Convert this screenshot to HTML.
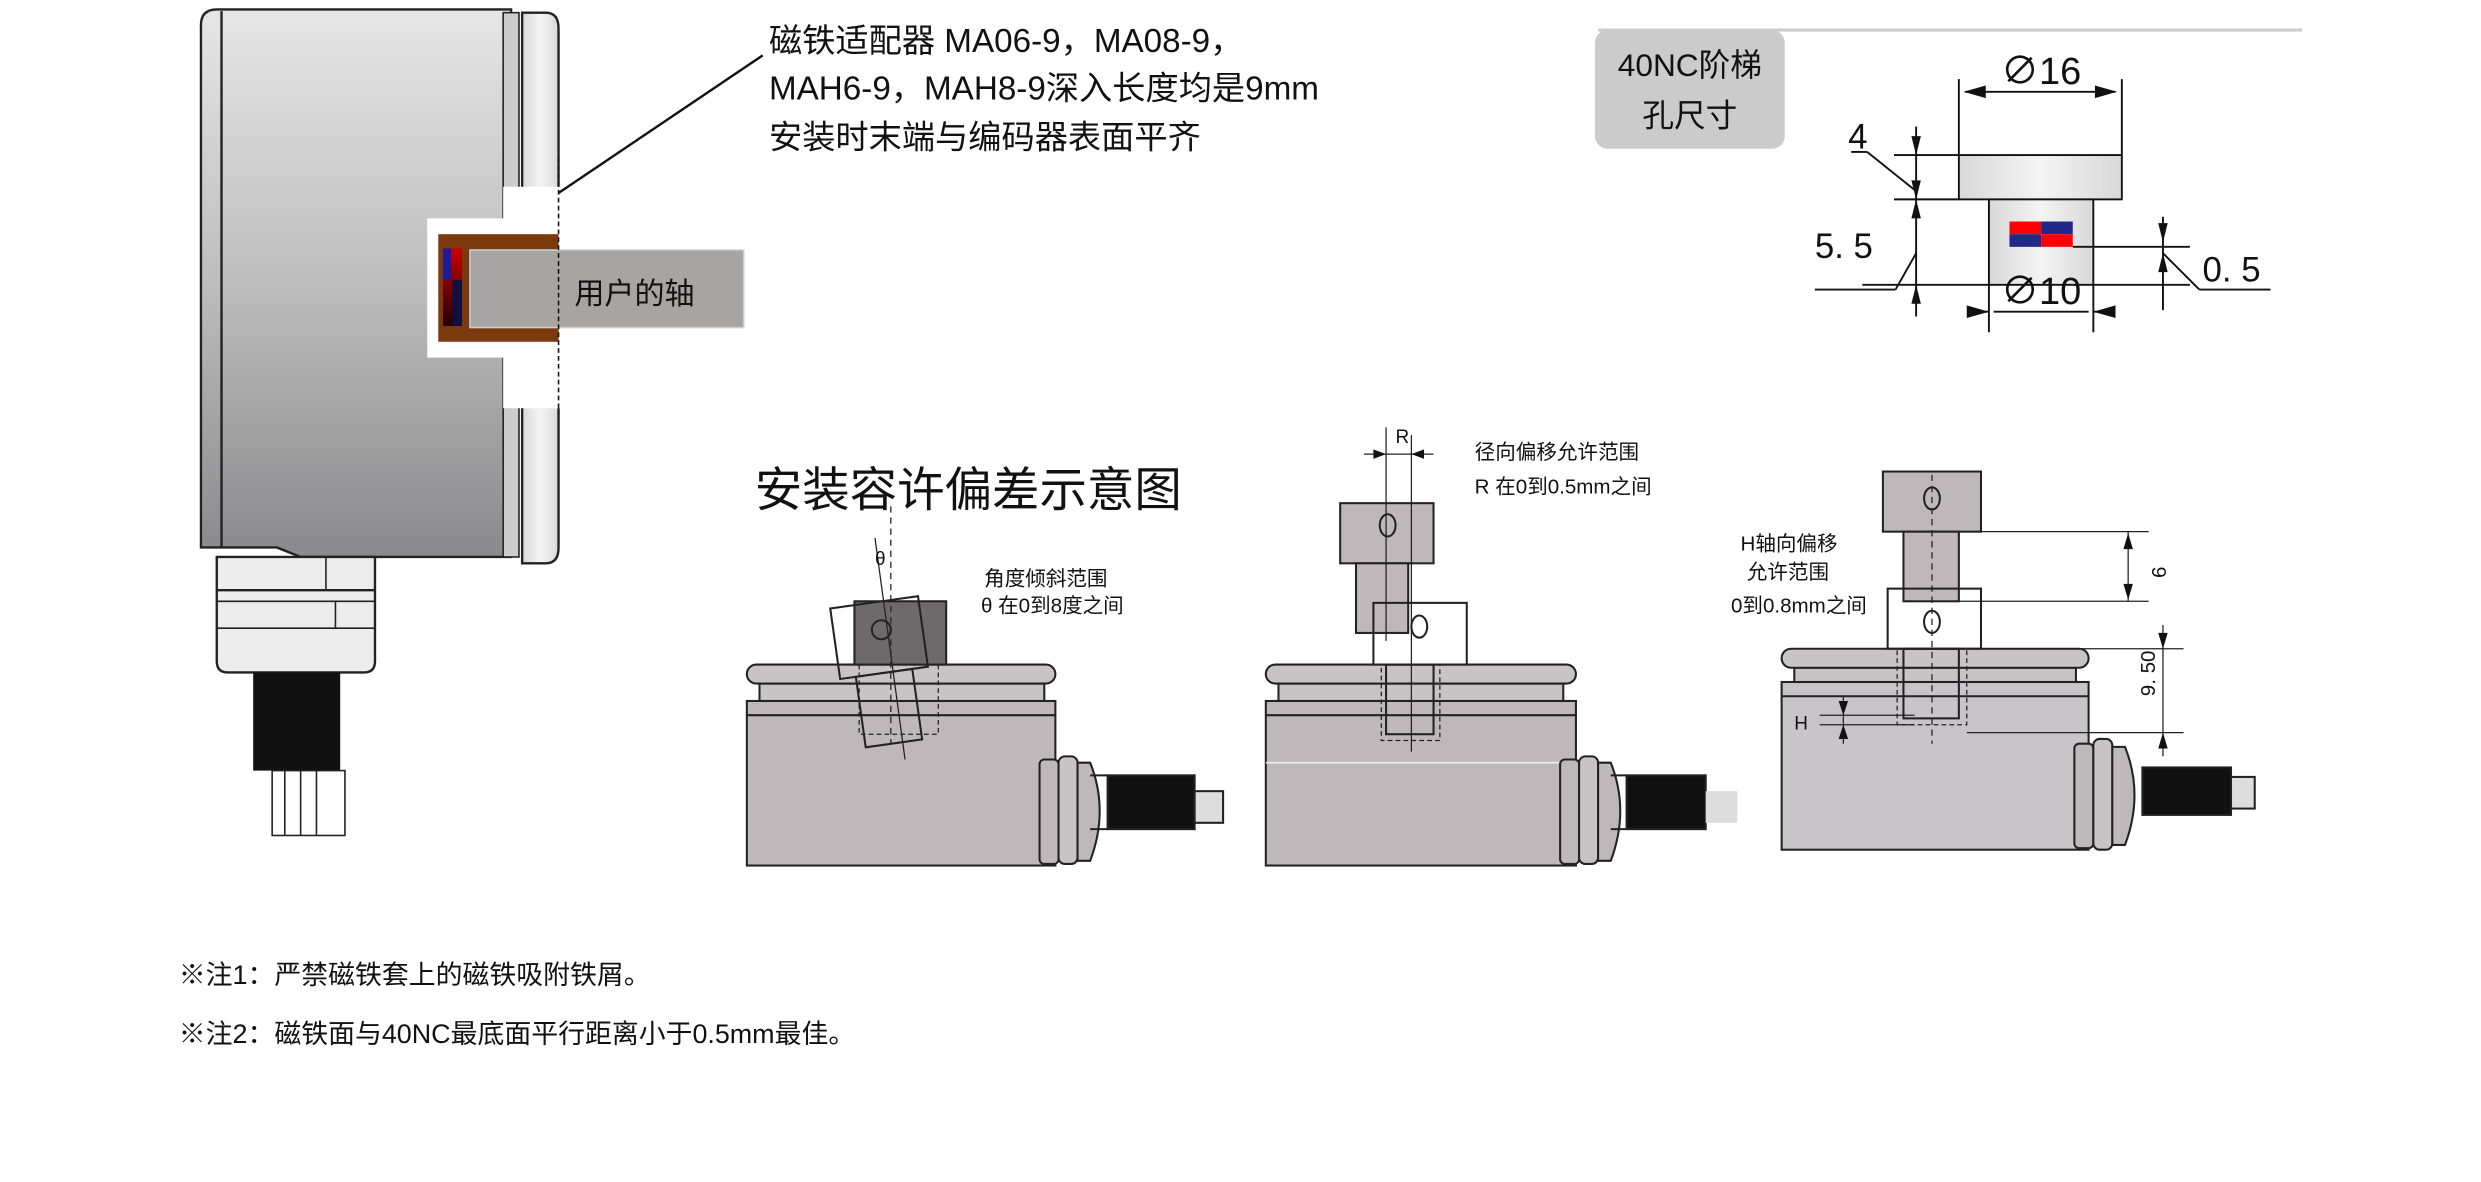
<!DOCTYPE html>
<html><head><meta charset="utf-8"><style>
html,body{margin:0;padding:0;background:#fff;}
svg{display:block;}
text{font-family:"Liberation Sans","Noto Sans CJK SC",sans-serif;fill:#111;}
</style></head><body>
<svg width="2481" height="1182" viewBox="0 0 1568 747" preserveAspectRatio="none" xmlns="http://www.w3.org/2000/svg">
<defs>
<linearGradient id="gb" x1="0" y1="0" x2="0" y2="1"><stop offset="0" stop-color="#e6e6e6"/><stop offset="0.5" stop-color="#bdbdbd"/><stop offset="1" stop-color="#8a898b"/></linearGradient>
<linearGradient id="gh" x1="0" y1="0" x2="1" y2="0"><stop offset="0" stop-color="#d8d8d8"/><stop offset="0.5" stop-color="#f4f4f4"/><stop offset="1" stop-color="#d8d8d8"/></linearGradient>
<linearGradient id="mg" x1="0" y1="0" x2="0" y2="1"><stop offset="0" stop-color="#c00"/><stop offset="1" stop-color="#200"/></linearGradient>
</defs>
<!-- Left encoder -->
<path d="M137,6 H323 V352 H190 L175,346 H127 V16 Q127,6 137,6Z" fill="url(#gb)" stroke="#222" stroke-width="1.5"/>
<line x1="140" y1="7" x2="140" y2="346" stroke="#222" stroke-width="1.5"/>
<rect x="318" y="8" width="10" height="344" fill="#ccc" stroke="#222"/>
<path d="M330,8 H345 Q353,8 353,18 V346 Q353,356 345,356 H330Z" fill="url(#gh)" stroke="#222" stroke-width="1.5"/>
<rect x="318" y="118" width="36" height="140" fill="#fff"/>
<rect x="270" y="138" width="84" height="88" fill="#fff"/>
<rect x="277" y="148" width="76" height="68" fill="#7a3a0e"/>
<rect x="280" y="157" width="12" height="49" fill="url(#mg)"/>
<rect x="280" y="157" width="5" height="20" fill="#1a1aa0"/>
<rect x="286" y="177" width="6" height="29" fill="#101040"/>
<rect x="297" y="158" width="173" height="49" fill="#a7a4a4" stroke="#ccc"/>
<text x="363" y="192" font-size="19">用户的轴</text>
<line x1="353" y1="100" x2="353" y2="262" stroke="#111" stroke-dasharray="3,2"/>
<line x1="353" y1="122" x2="482" y2="35" stroke="#111" stroke-width="1.5"/>
<path d="M137,352 H237 V418 Q237,425 230,425 H144 Q137,425 137,418Z" fill="#ececec" stroke="#222" stroke-width="1.5"/>
<line x1="137" y1="373" x2="237" y2="373" stroke="#222" stroke-width="1.5"/>
<line x1="137" y1="380" x2="237" y2="380" stroke="#222"/>
<line x1="137" y1="397" x2="237" y2="397" stroke="#222"/>
<line x1="206" y1="352" x2="206" y2="373" stroke="#222"/><line x1="212" y1="380" x2="212" y2="397" stroke="#222"/>
<rect x="160" y="425" width="55" height="62" fill="#111"/>
<rect x="172" y="487" width="46" height="41" fill="#fff" stroke="#222"/>
<line x1="180" y1="487" x2="180" y2="528" stroke="#222"/><line x1="190" y1="487" x2="190" y2="528" stroke="#222"/><line x1="200" y1="487" x2="200" y2="528" stroke="#222"/>
<text x="486" y="33" font-size="21">磁铁适配器 MA06-9，MA08-9，</text>
<text x="486" y="63" font-size="21">MAH6-9，MAH8-9深入长度均是9mm</text>
<text x="486" y="94" font-size="21">安装时末端与编码器表面平齐</text>
<!-- 40NC box -->
<line x1="1010" y1="19" x2="1455" y2="19" stroke="#ccc" stroke-width="2"/>
<rect x="1008" y="19" width="120" height="75" rx="8" fill="#cbcbcb"/>
<text x="1068" y="48" font-size="20" text-anchor="middle">40NC阶梯</text>
<text x="1068" y="80" font-size="20" text-anchor="middle">孔尺寸</text>
<g stroke="#111" stroke-width="1.2" fill="none">
<rect x="1238" y="98" width="103" height="28" fill="url(#gh)"/>
<rect x="1257" y="126" width="66" height="54" fill="url(#gh)"/>
<line x1="1238" y1="50" x2="1238" y2="98"/><line x1="1341" y1="50" x2="1341" y2="98"/>
<line x1="1242" y1="58" x2="1337" y2="58"/>
<line x1="1197" y1="98" x2="1238" y2="98"/><line x1="1197" y1="126" x2="1238" y2="126"/>
<line x1="1211" y1="80" x2="1211" y2="200"/>
<line x1="1180" y1="96" x2="1210" y2="120"/><line x1="1170" y1="96" x2="1180" y2="96"/>
<line x1="1177" y1="180" x2="1257" y2="180"/><line x1="1147" y1="183" x2="1198" y2="183"/><line x1="1198" y1="183" x2="1211" y2="160"/>
<line x1="1257" y1="180" x2="1257" y2="210"/><line x1="1323" y1="180" x2="1323" y2="210"/>
<line x1="1260" y1="197" x2="1320" y2="197"/><line x1="1244" y1="197" x2="1257" y2="197"/><line x1="1323" y1="197" x2="1336" y2="197"/>
<line x1="1310" y1="156" x2="1384" y2="156"/><line x1="1323" y1="180" x2="1384" y2="180"/>
<line x1="1367" y1="137" x2="1367" y2="196"/>
<line x1="1367" y1="160" x2="1390" y2="183"/><line x1="1390" y1="183" x2="1435" y2="183"/>
</g>
<g fill="#111">
<path d="M1241,58 l14,-4 v8z"/><path d="M1338,58 l-14,-4 v8z"/>
<path d="M1211,98 l-3,-12 h6z"/><path d="M1211,126 l-3,-12 h6z"/><path d="M1211,126 l-3,12 h6z"/><path d="M1211,180 l-3,12 h6z"/>
<path d="M1257,197 l-14,-4 v8z"/><path d="M1323,197 l14,-4 v8z"/>
<path d="M1367,153 l-3,-12 h6z"/><path d="M1367,160 l-3,12 h6z"/>
</g>
<rect x="1270" y="140" width="20" height="8" fill="#f00"/><rect x="1290" y="140" width="20" height="8" fill="#22288a"/>
<rect x="1270" y="148" width="20" height="8" fill="#22288a"/><rect x="1290" y="148" width="20" height="8" fill="#f00"/>
<text x="1290" y="53" font-size="24" text-anchor="middle">∅16</text>
<text x="1290" y="192" font-size="24" text-anchor="middle">∅10</text>
<text x="1168" y="94" font-size="22">4</text>
<text x="1147" y="163" font-size="22">5. 5</text>
<text x="1392" y="178" font-size="22">0. 5</text>
<!-- title -->
<text x="477" y="320" font-size="30">安装容许偏差示意图</text>
<!-- Encoder 1 -->
<g stroke="#222" stroke-width="1.3">
<rect x="472" y="443" width="195" height="104" fill="#bfb8bb"/>
<line x1="472" y1="452" x2="667" y2="452"/>
<rect x="480" y="432" width="180" height="11" fill="#c8c4c6"/>
<rect x="472" y="420" width="195" height="12" rx="6" fill="#c8c4c6"/>
<rect x="540" y="380" width="58" height="40" fill="#6e6a6b"/>
<g transform="rotate(-8 560 420)"><rect x="530" y="380" width="56" height="45" fill="none"/><rect x="540" y="425" width="36" height="45" fill="none"/></g>
<circle cx="557" cy="398" r="6" fill="none"/>
<line x1="563" y1="320" x2="563" y2="470" stroke-dasharray="4,3" stroke-width="0.8"/>
<line x1="553" y1="340" x2="572" y2="480" stroke-width="0.8"/>
<rect x="543" y="420" width="50" height="44" fill="none" stroke-dasharray="3,2" stroke-width="0.8"/>
<rect x="700" y="490" width="55" height="34" fill="#111"/>
<rect x="755" y="500" width="18" height="20" fill="#ddd"/>
<rect x="657" y="480" width="12" height="66" rx="3" fill="#bfb8bb"/>
<rect x="669" y="478" width="12" height="68" rx="4" fill="#c8c4c6"/>
<path d="M681,482 h8 q12,30 0,62 h-8z" fill="#bfb8bb"/>
<line x1="689" y1="490" x2="700" y2="490"/><line x1="689" y1="524" x2="700" y2="524"/>
</g>
<text x="553" y="357" font-size="12">θ</text>
<text x="622" y="370" font-size="13">角度倾斜范围</text>
<text x="620" y="387" font-size="13">θ 在0到8度之间</text>
<!-- Encoder 2 -->
<g stroke="#222" stroke-width="1.3">
<rect x="800" y="443" width="196" height="104" fill="#bfb8bb"/>
<line x1="800" y1="452" x2="996" y2="452"/>
<line x1="800" y1="482" x2="996" y2="482" stroke="#eee" stroke-width="1"/>
<rect x="808" y="432" width="180" height="11" fill="#c8c4c6"/>
<rect x="800" y="420" width="196" height="12" rx="6" fill="#c8c4c6"/>
<rect x="847" y="318" width="59" height="38" fill="#bfb8bb"/>
<rect x="857" y="356" width="33" height="44" fill="#bfb8bb"/>
<rect x="868" y="381" width="59" height="39" fill="none"/>
<rect x="876" y="420" width="30" height="44" fill="none"/>
<rect x="873" y="420" width="37" height="48" fill="none" stroke-dasharray="3,2" stroke-width="0.8"/>
<ellipse cx="877" cy="332" rx="5" ry="7" fill="none"/>
<ellipse cx="897" cy="396" rx="5" ry="7" fill="none"/>
<line x1="876" y1="270" x2="876" y2="405" stroke-width="0.8"/>
<line x1="892" y1="275" x2="892" y2="475" stroke-width="0.8"/>
<line x1="862" y1="287" x2="906" y2="287" stroke-width="0.8"/>
<rect x="1028" y="490" width="50" height="34" fill="#111"/>
<rect x="1078" y="500" width="20" height="20" fill="#ddd" stroke="none"/>
<rect x="986" y="480" width="12" height="66" rx="3" fill="#bfb8bb"/>
<rect x="998" y="478" width="12" height="68" rx="4" fill="#c8c4c6"/>
<path d="M1010,482 h8 q12,30 0,62 h-8z" fill="#bfb8bb"/>
<line x1="1018" y1="490" x2="1028" y2="490"/><line x1="1018" y1="524" x2="1028" y2="524"/>
</g>
<text x="882" y="280" font-size="12">R</text>
<text x="932" y="290" font-size="13">径向偏移允许范围</text>
<text x="932" y="312" font-size="13">R 在0到0.5mm之间</text>
<!-- Encoder 3 -->
<g stroke="#222" stroke-width="1.3">
<rect x="1126" y="431" width="194" height="106" fill="#c8c5c9"/>
<line x1="1126" y1="440" x2="1320" y2="440"/>
<rect x="1134" y="422" width="178" height="9" fill="#c8c4c6"/>
<rect x="1126" y="410" width="194" height="12" rx="6" fill="#c8c4c6"/>
<rect x="1190" y="298" width="62" height="38" fill="#bfb8bb"/>
<rect x="1203" y="336" width="35" height="44" fill="#bfb8bb"/>
<rect x="1193" y="372" width="59" height="38" fill="none"/>
<rect x="1203" y="410" width="35" height="44" fill="none"/>
<rect x="1199" y="410" width="44" height="48" fill="none" stroke-dasharray="3,2" stroke-width="0.8"/>
<ellipse cx="1221" cy="315" rx="5" ry="7" fill="none"/>
<ellipse cx="1221" cy="393" rx="5" ry="7" fill="none"/>
<line x1="1221" y1="300" x2="1221" y2="470" stroke-dasharray="4,3" stroke-width="0.8"/>
<line x1="1252" y1="336" x2="1358" y2="336" stroke-width="0.8"/>
<line x1="1238" y1="380" x2="1358" y2="380" stroke-width="0.8"/>
<line x1="1345" y1="336" x2="1345" y2="380" stroke-width="0.8"/>
<line x1="1252" y1="410" x2="1380" y2="410" stroke-width="0.8"/>
<line x1="1243" y1="463" x2="1380" y2="463" stroke-width="0.8"/>
<line x1="1367" y1="395" x2="1367" y2="478" stroke-width="0.8"/>
<line x1="1150" y1="452" x2="1210" y2="452" stroke-width="0.8"/>
<line x1="1150" y1="458" x2="1210" y2="458" stroke-width="0.8"/>
<line x1="1165" y1="440" x2="1165" y2="470" stroke-width="0.8"/>
<rect x="1354" y="485" width="56" height="30" fill="#111"/>
<rect x="1410" y="491" width="15" height="20" fill="#ddd"/>
<rect x="1311" y="470" width="12" height="66" rx="3" fill="#bfb8bb"/>
<rect x="1323" y="467" width="12" height="70" rx="4" fill="#c8c4c6"/>
<path d="M1335,472 h8 q12,30 0,62 h-8z" fill="#bfb8bb"/>
</g>
<g fill="#111"><path d="M1345,337 l-3,10 h6z"/><path d="M1345,379 l-3,-10 h6z"/><path d="M1367,410 l-3,-10 h6z"/><path d="M1367,463 l-3,10 h6z"/><path d="M1165,452 l-3,-9 h6z"/><path d="M1165,458 l-3,9 h6z"/><path d="M876,287 l-8,-3 v6z"/><path d="M892,287 l8,-3 v6z"/></g>
<text x="1360" y="358" font-size="13" transform="rotate(90 1360 358)">9</text>
<text x="1380" y="422" font-size="13" transform="rotate(-90 1380 440)">9. 50</text>
<text x="1134" y="461" font-size="12">H</text>
<text x="1100" y="348" font-size="13">H轴向偏移</text>
<text x="1104" y="366" font-size="13">允许范围</text>
<text x="1094" y="387" font-size="13">0到0.8mm之间</text>
<!-- notes -->
<text x="113" y="622" font-size="17">※注1：严禁磁铁套上的磁铁吸附铁屑。</text>
<text x="113" y="659" font-size="17">※注2：磁铁面与40NC最底面平行距离小于0.5mm最佳。</text>
</svg>
</body></html>
